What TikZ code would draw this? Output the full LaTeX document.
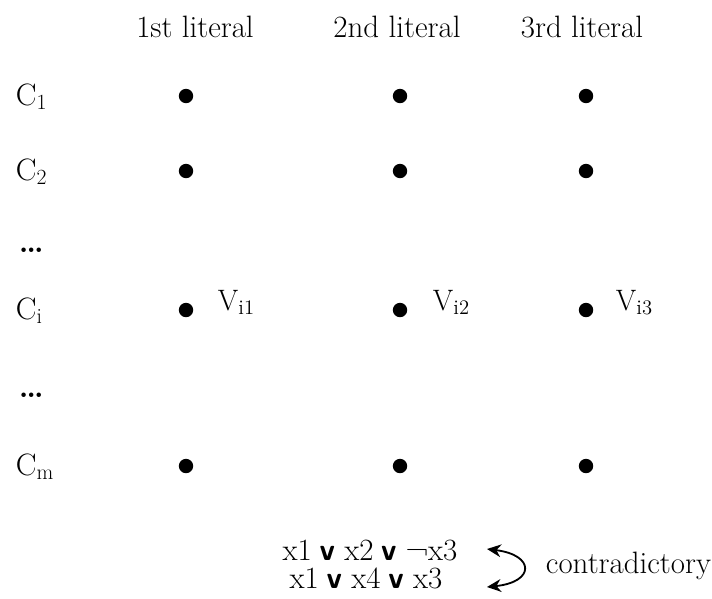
\documentclass[tikz,border=0pt]{standalone}
\usepackage{fontspec}
\usepackage{tikz}
\usetikzlibrary{arrows.meta}

\newcommand{\orsym}{\hspace{0.25em}{\sffamily\bfseries v}\hspace{0.3em}}

\begin{document}
\begin{tikzpicture}[
  x=0.025cm, y=-0.025cm,
  lit/.style={font=\fontsize{22}{26}\selectfont},
  var/.style={circle, fill, inner sep=0pt, minimum size=0.36cm},
  vlab/.style={font=\fontsize{21}{25}\selectfont, anchor=base west},
  rel/.style={{Stealth[length=3.5mm,width=3.2mm]}-{Stealth[length=3.5mm,width=3.2mm]}, line width=1.3pt}
]
\useasboundingbox (0,0) rectangle (712,599);

% column headers
\node[lit, anchor=base] (h1) at (195,37) {1st literal};
\node[lit, anchor=base] (h2) at (397,37) {2nd literal};
\node[lit, anchor=base] (h3) at (582,37) {3rd literal};

% clauses and their literals
\foreach \row/\y in {1/96, 2/171, i/310, m/466} {
  \node[lit, anchor=base west] (c\row) at (11,\y+9) {C\textsubscript{\row}};
  \foreach \col/\x in {1/186, 2/400, 3/586}
    \node[var] (d\row\col) at (\x,\y) {};
}
\node[lit, anchor=base west] (skip1) at (14,252) {\bfseries\dots};
\node[lit, anchor=base west] (skip2) at (14,397) {\bfseries\dots};

\node[vlab] (v1) at (213,310) {V\textsubscript{i1}};
\node[vlab] (v2) at (428,310) {V\textsubscript{i2}};
\node[vlab] (v3) at (611,310) {V\textsubscript{i3}};

% example of two clauses
\node[lit, anchor=base] (f1) at (370,560) {x1\orsym x2\orsym ¬x3};
\node[lit, anchor=base] (f2) at (366,588) {x1\orsym x4\orsym x3};
\node[lit, anchor=base west] (note) at (541,573) {contradictory};

\coordinate (a1) at (487,549);
\coordinate (a2) at (487,587);
\draw[rel] (a1) .. controls (535,555) and (535,582) .. (a2);

\end{tikzpicture}
\end{document}
